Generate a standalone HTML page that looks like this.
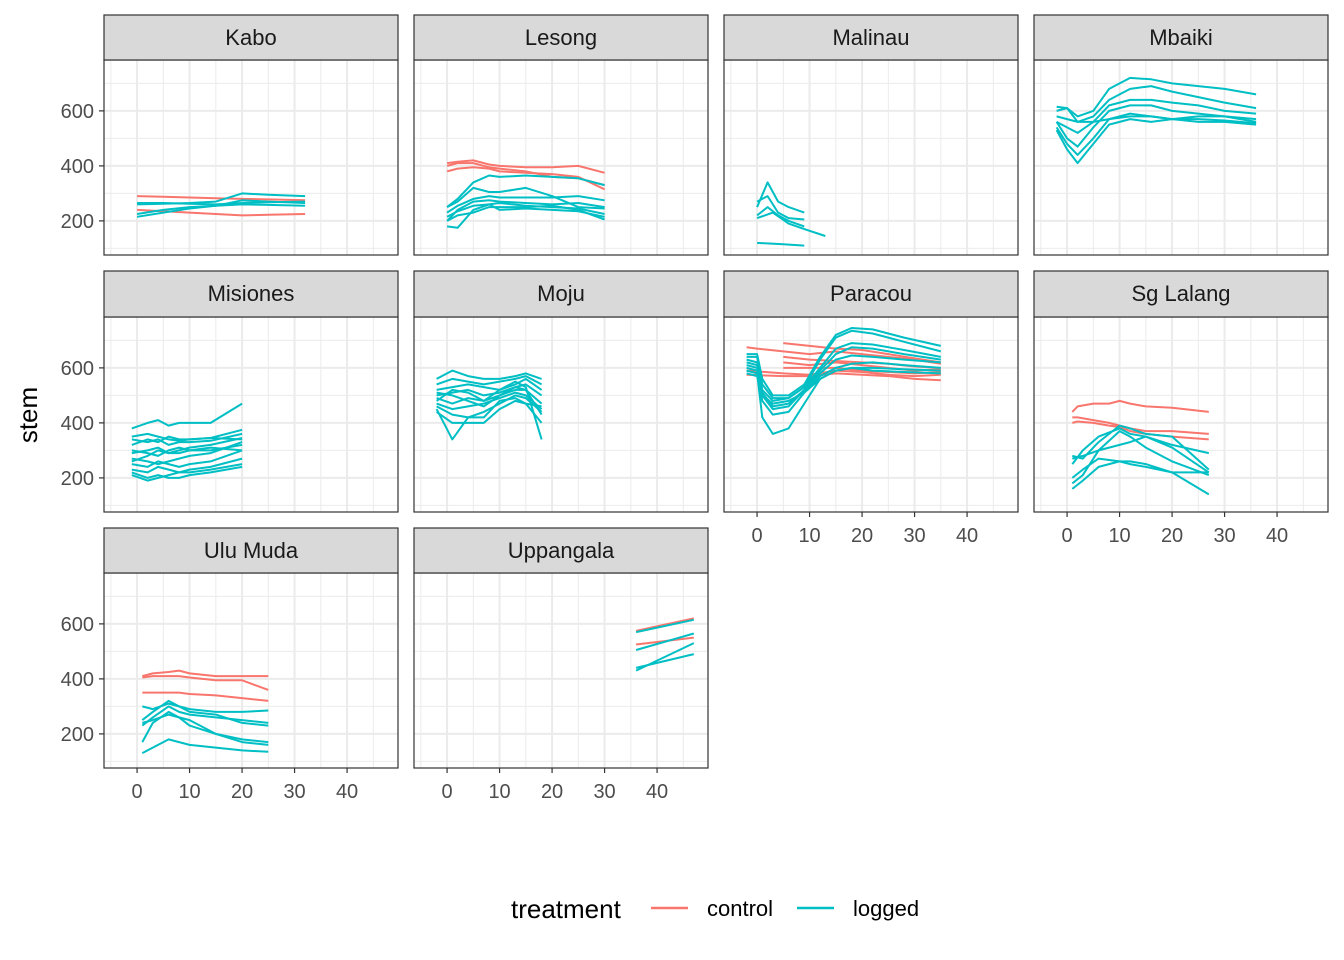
<!DOCTYPE html>
<html><head><meta charset="utf-8"><style>
body{margin:0;background:#fff;}
svg{display:block;font-family:"Liberation Sans",sans-serif;}
</style></head><body>
<svg id="chart" width="1344" height="960"></svg>
<script>
const panelNames = ["Kabo","Lesong","Malinau","Mbaiki","Misiones","Moju","Paracou","Sg Lalang","Ulu Muda","Uppangala"];
const xTicks = [0,10,20,30,40];
const yTicks = [200,400,600];
const groups = ["control","logged"];
const groupColors = {control:"#F8766D", logged:"#00BFC4"};
// each series: [panelIndex, group, xs, ys]
const kaboSeries = [
 [0,"control",[0,5,10,15,20,25,32],[290,288,285,282,280,278,275]],
 [0,"control",[0,5,10,15,20,25,32],[240,235,230,225,220,222,225]],
 [0,"logged",[0,5,10,15,20,25,32],[260,262,265,270,300,295,290]],
 [0,"logged",[0,5,10,15,20,25,32],[215,230,245,255,275,270,265]],
 [0,"logged",[0,5,10,15,20,25,32],[225,240,250,255,260,258,255]],
 [0,"logged",[0,5,10,15,20,25,32],[265,265,262,260,265,268,270]]
];
const lesongSeries = [
 [1,"control",[0,2,5,8,10,15,20,25,30],[410,415,420,405,400,395,395,400,375]],
 [1,"control",[0,2,5,8,10,15,20,25,30],[400,410,410,395,390,380,360,355,330]],
 [1,"control",[0,2,5,8,10,15,20,25,30],[380,390,395,390,380,375,370,360,315]],
 [1,"logged",[0,2,5,8,10,15,20,25,30],[250,280,340,365,360,365,360,355,330]],
 [1,"logged",[0,2,5,8,10,15,20,25,30],[250,270,320,305,305,320,290,250,245]],
 [1,"logged",[0,2,5,8,10,15,20,25,30],[230,255,280,290,285,285,285,290,275]],
 [1,"logged",[0,2,5,8,10,15,20,25,30],[200,240,270,275,270,265,260,265,250]],
 [1,"logged",[0,2,5,8,10,15,20,25,30],[180,175,240,260,265,255,250,245,225]],
 [1,"logged",[0,2,5,8,10,15,20,25,30],[215,235,255,260,240,245,240,235,215]],
 [1,"logged",[0,2,5,8,10,15,20,25,30],[200,220,230,250,250,250,255,240,205]]
];
const malinauSeries = [
 [2,"logged",[0,2,4,6,9],[250,340,270,250,230]],
 [2,"logged",[0,2,4,6,9],[270,290,230,210,205]],
 [2,"logged",[0,2,4,6,9],[220,250,220,200,180]],
 [2,"logged",[0,3,6,9,13],[210,230,190,170,145]],
 [2,"logged",[0,5,9],[120,115,110]]
];
const mbX = [-2,0,2,5,8,12,16,20,25,30,36];
const mbaikiSeries = [
 [3,"logged",mbX,[615,610,580,600,680,720,715,700,690,680,660]],
 [3,"logged",mbX,[600,610,560,580,640,680,690,670,650,630,610]],
 [3,"logged",mbX,[560,540,520,560,620,640,640,630,620,600,590]],
 [3,"logged",mbX,[560,500,470,540,600,620,620,600,590,580,570]],
 [3,"logged",mbX,[540,480,440,500,570,590,580,570,580,580,560]],
 [3,"logged",mbX,[530,460,410,480,550,570,560,570,560,560,550]],
 [3,"logged",mbX,[580,570,560,560,570,580,580,570,570,565,555]]
];
const miX = [-1,2,4,6,8,10,14,20];
const misionesSeries = [
 [4,"logged",miX,[380,400,410,390,400,400,400,470]],
 [4,"logged",miX,[350,360,350,340,335,340,345,375]],
 [4,"logged",miX,[340,330,340,320,330,330,335,360]],
 [4,"logged",miX,[320,340,330,350,340,340,345,340]],
 [4,"logged",miX,[290,300,310,290,300,310,320,345]],
 [4,"logged",miX,[260,280,300,290,290,300,300,320]],
 [4,"logged",miX,[250,240,260,250,240,250,260,300]],
 [4,"logged",miX,[230,220,240,230,220,230,240,270]],
 [4,"logged",miX,[210,190,200,210,220,220,230,250]],
 [4,"logged",miX,[220,200,210,200,200,210,220,240]],
 [4,"logged",miX,[270,260,250,260,270,280,290,330]],
 [4,"logged",miX,[300,290,280,300,310,300,310,300]]
];
const moX = [-2,1,4,7,10,13,15,18];
const mojuSeries = [
 [5,"logged",moX,[560,590,570,560,560,570,580,560]],
 [5,"logged",moX,[540,560,550,540,550,560,570,540]],
 [5,"logged",moX,[520,530,540,530,520,540,560,520]],
 [5,"logged",moX,[500,510,520,500,510,530,540,500]],
 [5,"logged",moX,[490,470,490,480,500,520,520,470]],
 [5,"logged",moX,[470,450,460,470,490,510,500,450]],
 [5,"logged",moX,[460,430,420,440,470,500,490,440]],
 [5,"logged",moX,[440,400,400,400,450,480,470,400]],
 [5,"logged",moX,[480,520,510,480,520,550,530,340]],
 [5,"logged",moX,[510,500,480,460,500,530,520,430]],
 [5,"logged",moX,[450,340,420,420,480,490,470,460]]
];
const paX = [-2,0,1,3,6,9,12,15,18,22,28,35];
const paracouSeries = [
 [6,"control",[-2,0,5,10,15,20,25,30,35],[675,670,660,650,660,650,640,630,615]],
 [6,"control",[5,10,15,20,25,30,35],[690,680,670,665,650,635,620]],
 [6,"control",[5,10,15,20,25,30,35],[620,610,620,610,600,590,595]],
 [6,"control",[5,10,15,20,25,30,35],[600,600,600,590,585,580,585]],
 [6,"control",[-2,5,10,15,20,25,30,35],[575,570,570,580,575,570,560,555]],
 [6,"control",[-2,5,10,15,20,25,30,35],[590,580,575,590,585,575,570,575]],
 [6,"control",[5,10,15,20,25,30,35],[640,630,625,620,615,605,600]],
 [6,"logged",paX,[650,650,560,500,500,540,640,720,745,740,710,680]],
 [6,"logged",paX,[640,640,540,490,490,530,630,710,735,725,695,660]],
 [6,"logged",paX,[630,620,520,480,490,530,600,670,690,685,665,640]],
 [6,"logged",paX,[620,610,510,460,470,520,590,650,675,670,650,630]],
 [6,"logged",paX,[610,600,500,450,460,520,580,630,645,640,630,620]],
 [6,"logged",paX,[600,590,480,430,440,510,570,600,615,620,610,600]],
 [6,"logged",paX,[590,580,420,360,380,470,560,590,600,590,585,580]],
 [6,"logged",paX,[580,570,500,470,480,510,560,590,600,600,595,590]]
];
const sgX = [1,3,6,10,12,15,20,27];
const sgLalangSeries = [
 [7,"control",[1,2,5,8,10,12,15,20,27],[440,460,470,470,480,470,460,455,440]],
 [7,"control",[1,2,5,8,10,12,15,20,27],[420,420,410,400,390,380,370,370,360]],
 [7,"control",[1,2,5,8,10,12,15,20,27],[400,405,400,390,385,370,360,350,340]],
 [7,"logged",sgX,[280,270,330,390,380,360,350,230]],
 [7,"logged",sgX,[250,300,350,380,360,350,310,220]],
 [7,"logged",sgX,[180,210,300,370,350,310,260,210]],
 [7,"logged",sgX,[160,190,240,260,260,250,220,140]],
 [7,"logged",sgX,[270,280,300,320,330,350,320,290]],
 [7,"logged",sgX,[200,230,270,260,250,240,220,220]]
];
const umX = [1,3,6,8,10,15,20,25];
const uluMudaSeries = [
 [8,"control",umX,[410,420,425,430,420,410,410,410]],
 [8,"control",umX,[405,410,410,410,405,395,395,360]],
 [8,"control",umX,[350,350,350,350,345,340,330,320]],
 [8,"logged",umX,[300,290,310,300,290,280,280,285]],
 [8,"logged",umX,[250,280,320,300,280,270,240,230]],
 [8,"logged",umX,[230,260,300,280,270,260,250,240]],
 [8,"logged",umX,[170,240,280,260,230,200,180,170]],
 [8,"logged",umX,[130,150,180,170,160,150,140,135]],
 [8,"logged",umX,[240,250,270,260,250,200,170,160]]
];
const uppangalaSeries = [
 [9,"control",[36,47],[575,620]],
 [9,"control",[36,47],[525,550]],
 [9,"logged",[36,47],[570,615]],
 [9,"logged",[36,47],[505,565]],
 [9,"logged",[36,47],[430,530]],
 [9,"logged",[36,47],[440,490]]
];
const allSeries = [].concat(kaboSeries,lesongSeries,malinauSeries,mbaikiSeries,misionesSeries,mojuSeries,paracouSeries,sgLalangSeries,uluMudaSeries,uppangalaSeries);

const NS="http://www.w3.org/2000/svg";
const svg=document.getElementById("chart");
function mk(tag,attrs,parent){const e=document.createElementNS(NS,tag);for(const k in attrs)e.setAttribute(k,attrs[k]);(parent||svg).appendChild(e);return e;}
const colX=[104,414,724,1034], PW=294;
const rowStrip=[15,271,528], rowTop=[60,317,573], PH=195;
const xMin=-6.3, xMax=49.7, yMin=76, yMax=785;
function sx(c,v){return colX[c]+(v-xMin)/(xMax-xMin)*PW;}
function sy(r,v){return rowTop[r]+PH-(v-yMin)/(yMax-yMin)*PH;}

panelNames.forEach((name,i)=>{
  const c=i%4, r=Math.floor(i/4);
  const g=mk("g",{});
  
  
  mk("rect",{x:colX[c],y:rowTop[r],width:PW,height:PH,fill:"#fff"},g);
  for(let v=-5;v<=50;v+=5){const X=sx(c,v);if(X<colX[c]||X>colX[c]+PW)continue;
    mk("line",{x1:X,x2:X,y1:rowTop[r],y2:rowTop[r]+PH,stroke:"#ebebeb","stroke-width":v%10===0?2:1},g);}
  for(let v=100;v<=700;v+=100){const Y=sy(r,v);
    mk("line",{x1:colX[c],x2:colX[c]+PW,y1:Y,y2:Y,stroke:"#ebebeb","stroke-width":v%200===0?2:1},g);}
  allSeries.filter(s=>s[0]===i).forEach(s=>{
    const pts=s[2].map((x,k)=>sx(c,x).toFixed(1)+","+sy(r,s[3][k]).toFixed(1)).join(" ");
    const pl=mk("polyline",{points:pts,fill:"none",stroke:groupColors[s[1]],"stroke-width":2,"stroke-linejoin":"round"},g);
    
    
  });
  mk("rect",{x:colX[c],y:rowTop[r],width:PW,height:PH,fill:"none",stroke:"#333","stroke-width":1.2},g);
  const st=mk("rect",{x:colX[c],y:rowStrip[r],width:PW,height:rowTop[r]-rowStrip[r],fill:"#d9d9d9",stroke:"#333","stroke-width":1.2},g);
  
  
  const t=mk("text",{x:colX[c]+PW/2,y:rowStrip[r]+30,"text-anchor":"middle","font-size":22,fill:"#1a1a1a"},g);
  t.textContent=name;
  if(c===0){yTicks.forEach(v=>{const Y=sy(r,v);
    mk("line",{x1:colX[c]-5,x2:colX[c],y1:Y,y2:Y,stroke:"#333","stroke-width":1.2},g);
    const tt=mk("text",{x:colX[c]-10,y:Y+7,"text-anchor":"end","font-size":20,fill:"#4d4d4d"},g);
    
    
    tt.textContent=v;});}
  const showX = (r===2) || (r===1 && c>=2);
  if(showX){xTicks.forEach(v=>{const X=sx(c,v),B=rowTop[r]+PH;
    mk("line",{x1:X,x2:X,y1:B,y2:B+5,stroke:"#333","stroke-width":1.2},g);
    const tt=mk("text",{x:X,y:B+30,"text-anchor":"middle","font-size":20,fill:"#4d4d4d"},g);
    
    
    tt.textContent=v;});}
});
const yt=mk("text",{x:0,y:0,transform:"translate(37,415) rotate(-90)","text-anchor":"middle","font-size":26,fill:"#000"});


yt.textContent="stem";
const lg=mk("g",{});


const lt=mk("text",{x:511,y:918,"font-size":26,fill:"#000"},lg);lt.textContent="treatment";
const legX=[651,797];
groups.forEach((gname,k)=>{
  const e=mk("g",{},lg);
  
  
  mk("line",{x1:legX[k],x2:legX[k]+37,y1:908,y2:908,stroke:groupColors[gname],"stroke-width":2.5},e);
  const tx=mk("text",{x:legX[k]+56,y:916,"font-size":22,fill:"#000"},e);tx.textContent=gname;
});
</script>
</body></html>
